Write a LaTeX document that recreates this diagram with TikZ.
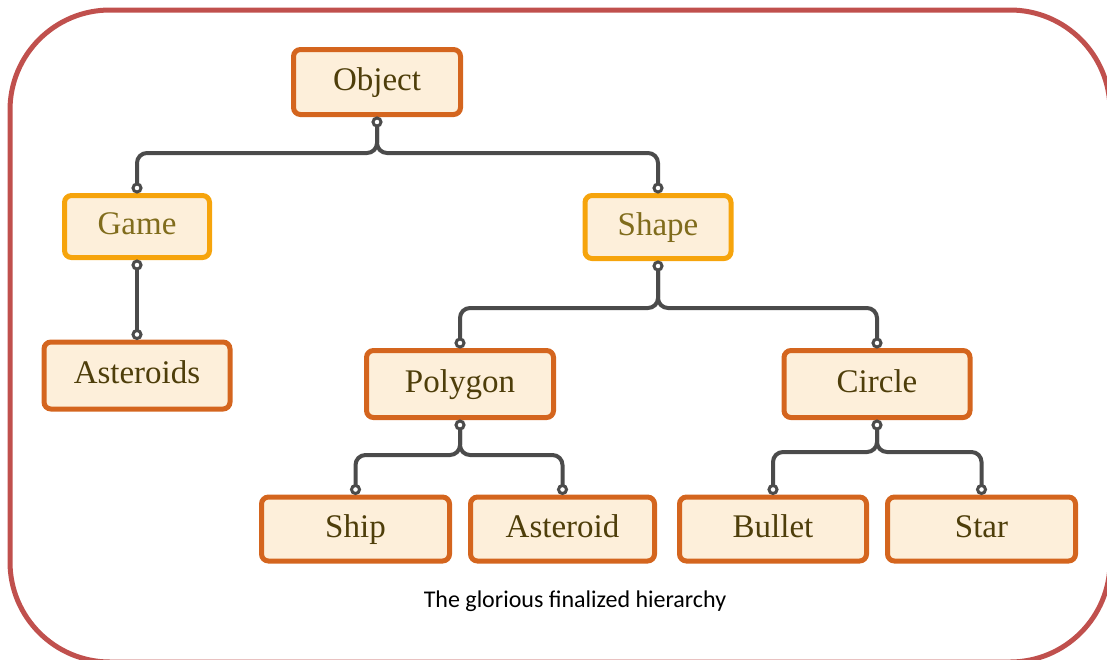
\documentclass[tikz,border=0pt]{standalone}
\usepackage{fontspec}
\setmainfont{Liberation Serif}
\newfontfamily\capfont{Carlito}
\definecolor{frameRed}{RGB}{192,80,77}
\definecolor{boxOrange}{RGB}{212,101,30}
\definecolor{boxAmber}{RGB}{246,164,12}
\definecolor{boxFill}{RGB}{253,239,218}
\definecolor{boxText}{RGB}{78,62,10}
\definecolor{goldText}{RGB}{128,108,28}
\definecolor{connGray}{RGB}{75,75,75}
\tikzset{
  classbox/.style={draw=boxOrange, line width=5pt, fill=boxFill, rounded corners=7pt,
    text=boxText, inner sep=0pt, text height=22pt, text depth=6pt,
    font=\fontsize{33}{37}\selectfont},
  basebox/.style={classbox, draw=boxAmber, text=goldText},
  conn/.style={draw=connGray, line width=4pt, rounded corners=10pt},
  enddot/.style={circle, draw=connGray, line width=3pt, fill=white,
    minimum size=8pt, inner sep=0pt},
}
\begin{document}
\begin{tikzpicture}[x=1pt,y=-1pt]
\useasboundingbox (0,0) rectangle (1107,659);
\clip (0,0) rectangle (1107,659);
% outer frame
\draw[frameRed, line width=5pt, rounded corners=100pt] (10,10) rectangle (1110,662);

% class boxes
\node[classbox, minimum width=167pt, minimum height=65pt] (object)    at (377,82)    {Object};
\node[basebox,  minimum width=145pt, minimum height=62pt] (game)      at (137,226.5) {Game};
\node[basebox,  minimum width=146pt, minimum height=63pt] (shape)     at (658,227)   {Shape};
\node[classbox, minimum width=186pt, minimum height=67pt] (asteroids) at (137,375.5) {Asteroids};
\node[classbox, minimum width=187pt, minimum height=67pt] (polygon)   at (460,384)   {Polygon};
\node[classbox, minimum width=186pt, minimum height=67pt] (circle)    at (877,384)   {Circle};
\node[classbox, minimum width=188pt, minimum height=64pt] (ship)      at (355.5,529) {Ship};
\node[classbox, minimum width=184pt, minimum height=64pt] (asteroid)  at (562.5,529) {Asteroid};
\node[classbox, minimum width=187pt, minimum height=64pt] (bullet)    at (773,529)   {Bullet};
\node[classbox, minimum width=188pt, minimum height=64pt] (star)      at (981.5,529) {Star};

% branch levels
\coordinate (lvObject)  at (0,153);
\coordinate (lvShape)   at (0,308);
\coordinate (lvPolygon) at (0,455);
\coordinate (lvCircle)  at (0,452);

% connectors
\foreach \p/\c/\lv in {object/game/lvObject, object/shape/lvObject,
                       shape/polygon/lvShape, shape/circle/lvShape,
                       polygon/ship/lvPolygon, polygon/asteroid/lvPolygon,
                       circle/bullet/lvCircle, circle/star/lvCircle}{
  \draw[conn] ([yshift=-5pt]\p.south) -- (\p.south |- \lv) -- (\c.north |- \lv) -- ([yshift=5pt]\c.north);
}
\draw[conn] ([yshift=-5pt]game.south) -- ([yshift=5pt]asteroids.north);

% end markers
\foreach \n in {object,game,shape,polygon,circle}{
  \node[enddot] at ([yshift=-5pt]\n.south) {};
}
\foreach \n in {game,shape,asteroids,polygon,circle,ship,asteroid,bullet,star}{
  \node[enddot] at ([yshift=5pt]\n.north) {};
}

% caption
\node[font=\capfont\fontsize{24}{28}\selectfont, text=black, anchor=base, inner sep=0pt] (caption) at (575,607) {The glorious finalized hierarchy};
\end{tikzpicture}
\end{document}
